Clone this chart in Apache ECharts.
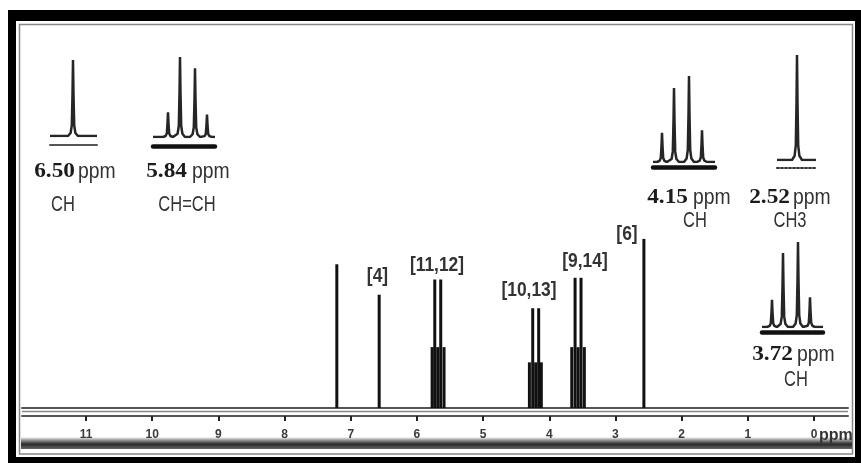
<!DOCTYPE html>
<html>
<head>
<meta charset="utf-8">
<script src="https://cdn.jsdelivr.net/npm/echarts@6/dist/echarts.min.js"></script>
<style>
  html, body { margin: 0; padding: 0; background: #fff; }
  #c { width: 861px; height: 463px; }
</style>
</head>
<body>
<div id="c"></div>
<script>
// Chemical shift axis ticks (ppm)
const tickValues = [0, 1, 2, 3, 4, 5, 6, 7, 8, 9, 10, 11];

// Main 1H spectrum sticks: shift (ppm) and relative intensity
const stickShift  = [7.21, 6.57, 5.77, 5.73, 5.685, 5.64, 5.59, 4.30, 4.25, 4.205, 4.16, 4.12, 3.66, 3.61, 3.565, 3.52, 3.47, 2.57];
const stickHeight = [85,   67,   36,   76,   36,    76,   36,   27,   59,   27,    59,   27,   36,   77,   36,    77,   36,   100];

// Assignment labels above the signals
const assignLabels = ['[4]', '[11,12]', '[10,13]', '[9,14]', '[6]'];

// Expanded multiplets: shift text, group, line offsets and relative line heights
const insetShiftText   = ['6.50', '5.84', '4.15', '2.52', '3.72'];
const insetGroup       = ['CH', 'CH=CH', 'CH', 'CH3', 'CH'];
const insetLineOffsets = [[23], [15, 27, 42, 54], [9, 21, 36, 49], [20], [10, 21, 36, 48]];
const insetLineHeights = [[100], [31, 100, 86, 28], [34, 86, 100, 37], [100], [32, 87, 100, 35]];

// ---- layout ----
const AX_MIN = -0.514, AX_MAX = 11.967;
const insetBoxes = [
  { left: 50,  top: 60,  width: 47, height: 76,  rule: { offset: 9,   width: 2,   color: '#555', type: 'solid' } },
  { left: 153, top: 57,  width: 62, height: 80,  rule: { offset: 9,   width: 4.5, color: '#111', type: 'solid' } },
  { left: 653, top: 76,  width: 62, height: 86,  rule: { offset: 5.5, width: 4.5, color: '#111', type: 'solid' } },
  { left: 777, top: 55,  width: 39, height: 105, rule: { offset: 8,   width: 2,   color: '#333', type: 'dotted' } },
  { left: 762, top: 242, width: 61, height: 85,  rule: { offset: 5.5, width: 4.5, color: '#111', type: 'solid' } }
];
const insetText = [
  { numEnd: 75,  ppmStart: 78,  y: 171, gx: 63,  gy: 205 },
  { numEnd: 187, ppmStart: 192, y: 171, gx: 187, gy: 205 },
  { numEnd: 688, ppmStart: 693, y: 197, gx: 695, gy: 221 },
  { numEnd: 790, ppmStart: 793, y: 197, gx: 790, gy: 221 },
  { numEnd: 793, ppmStart: 797, y: 354, gx: 796, gy: 380 }
];
const assignPos = [[377.5, 276], [437, 265], [529, 290], [585, 261], [627, 234]];

// Line profile of one expanded resonance (x offset in px, fraction of height)
const profile = [[-5, 0], [-2.4, 0.04], [-1.2, 0.14], [-0.5, 0.55], [0, 1], [0.5, 0.55], [1.2, 0.14], [2.4, 0.04], [5, 0]];
function multiplet(offsets, heights, width) {
  const pts = [[0, 0]];
  offsets.forEach((c, i) => profile.forEach(([dx, f]) => pts.push([c + dx, f * heights[i]])));
  pts.push([width, 0]);
  return pts;
}

const chart = echarts.init(document.getElementById('c'));

const grids = [{ left: 22, right: 13, top: 36, bottom: 55 }];
const xAxes = [
  {
    type: 'value', gridIndex: 0, inverse: true, min: AX_MIN, max: AX_MAX,
    axisLine: { show: true, onZero: false, lineStyle: { color: '#555', width: 2 } },
    axisTick: { show: false }, axisLabel: { show: false }, splitLine: { show: false }
  },
  {
    type: 'value', gridIndex: 0, inverse: true, min: AX_MIN, max: AX_MAX, position: 'bottom', offset: 8,
    axisLine: { show: true, onZero: false, lineStyle: { color: '#555', width: 2 } },
    axisTick: { show: true, customValues: tickValues, length: 5, lineStyle: { color: '#222', width: 2 } },
    axisLabel: {
      show: true, customValues: tickValues, margin: 13,
      fontFamily: 'Liberation Sans Narrow, Liberation Sans, sans-serif', fontWeight: 'bold', fontSize: 12, color: '#3a3a3a'
    },
    splitLine: { show: false }
  }
];
const yAxes = [{ type: 'value', gridIndex: 0, min: 0, max: 220, show: false }];

const series = [{
  type: 'custom', xAxisIndex: 0, yAxisIndex: 0,
  data: stickShift.map((s, i) => [s, stickHeight[i]]),
  renderItem: function (params, api) {
    const p0 = api.coord([api.value(0), 0]);
    const p1 = api.coord([api.value(0), api.value(1)]);
    return {
      type: 'line',
      shape: { x1: p0[0], y1: p0[1], x2: p1[0], y2: p1[1] },
      style: { stroke: '#111', lineWidth: 3 }
    };
  }
}];

insetBoxes.forEach((b, i) => {
  grids.push({ left: b.left, top: b.top, width: b.width, height: b.height });
  xAxes.push({
    type: 'value', gridIndex: i + 1, min: 0, max: b.width, position: 'bottom', offset: b.rule.offset,
    axisLine: { show: true, onZero: false, lineStyle: { color: b.rule.color, width: b.rule.width, type: b.rule.type } },
    axisTick: { show: false }, axisLabel: { show: false }, splitLine: { show: false }
  });
  yAxes.push({ type: 'value', gridIndex: i + 1, min: 0, max: 100, show: false });
  series.push({
    type: 'line', xAxisIndex: i + 2, yAxisIndex: i + 1, showSymbol: false, smooth: false,
    lineStyle: { color: '#262626', width: 2.5 },
    data: multiplet(insetLineOffsets[i], insetLineHeights[i], b.width)
  });
});

// Frame, axis band and annotation text
const graphics = [
  { type: 'rect', z: -10, shape: { x: 8, y: 10, width: 870, height: 470 }, style: { fill: '#000' } },
  { type: 'rect', z: -9, shape: { x: 16, y: 21, width: 839, height: 436 }, style: { fill: '#fff' } },
  { type: 'rect', z: -8, shape: { x: 19.5, y: 24.5, width: 833, height: 429.5 }, style: { fill: '#fff', stroke: '#888', lineWidth: 1.5 } },
  { type: 'rect', z: -7, shape: { x: 21, y: 437, width: 831, height: 12 },
    style: { fill: new echarts.graphic.LinearGradient(0, 0, 0, 1, [
      { offset: 0, color: 'rgba(0,0,0,0)' }, { offset: 0.6, color: '#2a2a2a' }, { offset: 1, color: '#666' }]) } },
  { type: 'line', z: -6, shape: { x1: 22, y1: 411.5, x2: 848, y2: 411.5 }, style: { stroke: '#888', lineWidth: 1.5 } },
  { type: 'text', z: 10, x: 819, y: 436,
    style: { text: 'ppm', font: 'bold 16px "Liberation Sans", sans-serif', fill: '#333', textAlign: 'left', textVerticalAlign: 'middle' } }
];

assignLabels.forEach((t, i) => {
  graphics.push({
    type: 'text', z: 10, x: assignPos[i][0], y: assignPos[i][1], scaleX: 0.87,
    style: { text: t, font: 'bold 20px "Liberation Sans", sans-serif', fill: '#333', textAlign: 'center', textVerticalAlign: 'middle' }
  });
});

insetShiftText.forEach((t, i) => {
  const p = insetText[i];
  graphics.push({
    type: 'text', z: 10, x: p.numEnd, y: p.y, scaleX: 1.06,
    style: { text: t, font: 'bold 22px "Liberation Serif", serif', fill: '#1c1c1c', textAlign: 'right', textVerticalAlign: 'middle' }
  });
  graphics.push({
    type: 'text', z: 10, x: p.ppmStart, y: p.y + 1, scaleX: 0.88,
    style: { text: 'ppm', font: '22px "Liberation Sans", sans-serif', fill: '#333', textAlign: 'left', textVerticalAlign: 'middle' }
  });
  graphics.push({
    type: 'text', z: 10, x: p.gx, y: p.gy, scaleX: 0.75,
    style: { text: insetGroup[i], font: '22px "Liberation Sans", sans-serif', fill: '#333', textAlign: 'center', textVerticalAlign: 'middle' }
  });
});

chart.setOption({
  animation: false,
  backgroundColor: '#fff',
  grid: grids,
  xAxis: xAxes,
  yAxis: yAxes,
  series: series,
  graphic: { elements: graphics }
});
</script>
</body>
</html>
